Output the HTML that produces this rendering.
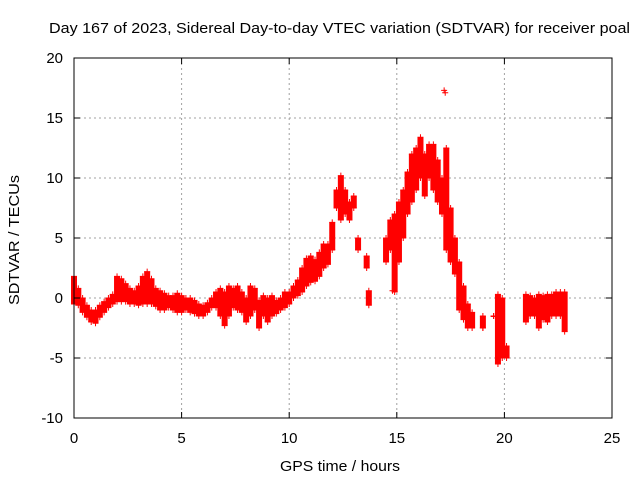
<!DOCTYPE html>
<html><head><meta charset="utf-8"><style>
body{margin:0;background:#fff}
svg{display:block;font-family:"Liberation Sans",sans-serif}
</style></head><body>
<svg id="c" width="640" height="480">
<text x="49" y="33" font-size="15" textLength="581" lengthAdjust="spacingAndGlyphs">Day 167 of 2023, Sidereal Day-to-day VTEC variation (SDTVAR) for receiver poal</text>
<text x="280" y="471" font-size="15" textLength="120" lengthAdjust="spacingAndGlyphs">GPS time / hours</text>
<text transform="translate(19,305) rotate(-90)" font-size="15" textLength="130" lengthAdjust="spacingAndGlyphs">SDTVAR / TECUs</text>
<g id="grid"></g><g id="marks"></g><g id="ticks"></g>
<rect x="74" y="58" width="538" height="360" fill="none" stroke="#000"/>
</svg>
<script>
const xTicks=[0,5,10,15,20,25];
const yTicks=[-10,-5,0,5,10,15,20];
const times=[0,0.2,0.4,0.6,0.8,1.0,1.2,1.4,1.6,1.8,2.0,2.2,2.4,2.6,2.8,3.0,3.2,3.4,3.6,3.8,4.0,4.2,4.4,4.6,4.8,5.0,5.2,5.4,5.6,5.8,6.0,6.2,6.4,6.6,6.8,7.0,7.2,7.4,7.6,7.8,8.0,8.2,8.4,8.6,8.8,9.0,9.2,9.4,9.6,9.8,10.0,10.2,10.4,10.6,10.8,11.0,11.2,11.4,11.6,11.8,12.0,12.2,12.4,12.6,12.8,13.0,13.2,13.6,13.7,14.5,14.7,14.9,15.1,15.3,15.5,15.7,15.9,16.1,16.3,16.5,16.7,16.9,17.1,17.3,17.5,17.7,17.9,18.1,18.3,18.5,19.0,19.5,19.7,19.9,20.1,21.0,21.2,21.4,21.6,21.8,22.0,22.2,22.4,22.6,22.8];
const highs=[1.8,0.8,0,-0.6,-1,-1,-0.6,-0.3,0,0.3,1.8,1.6,1.2,0.8,0.6,1.0,1.8,2.2,1.6,0.8,0.6,0.4,0.2,0.2,0.4,0.2,0,0,-0.2,-0.5,-0.6,-0.4,0,0.5,0.8,0.5,1,0.8,1,0.5,0,1,0.8,-0.2,0.2,0,0.2,-0.2,0,0.5,0.5,1,1.5,2.5,3.3,3.5,3.2,3.8,4.5,4.5,6.3,9,10.2,9,8,8.5,5,3.5,0.6,5,6.5,7,8,9,10.5,12,12.5,13.4,12,12.8,12.8,11.5,10,12.5,7.5,5,3,1,-0.5,-1.2,-1.5,-1.5,0.3,0,-4,0.3,0.2,0,0.3,0.2,0.3,0.3,0.5,0.5,0.5];
const lows=[-0.5,-0.6,-1.2,-1.6,-2,-2.1,-1.6,-1.2,-0.8,-0.5,-0.3,-0.3,-0.3,-0.5,-0.5,-0.6,-0.5,-0.5,-0.5,-0.7,-1,-1,-0.8,-1,-1.2,-1.2,-1,-1.2,-1.3,-1.5,-1.5,-1.2,-0.8,-0.8,-1.5,-2.3,-1.5,-0.8,-1,-1.2,-2,-1.5,-1,-2.5,-1.5,-2,-1.5,-1.3,-1,-0.8,-0.5,0,0.2,0.5,1,1.3,1.4,1.8,2.5,2.8,4,7.5,6.5,7,6.5,7.5,4,2.5,-0.6,3,4,0.5,3,5,7,8,9,10,8.5,10,9,8,7,4,3,2,-1,-1.8,-2.5,-2.5,-2.5,-1.5,-5.5,-5,-5,-2,-1.5,-1.5,-2.5,-1.8,-2,-1.5,-1.5,-1.5,-2.8];
const X=t=>74+t*538/25, Y=v=>298-v*12;
const ns="http://www.w3.org/2000/svg";
const grid=document.getElementById('grid'),marks=document.getElementById('marks'),tk=document.getElementById('ticks');
function mk(tag,at,par){const e=document.createElementNS(ns,tag);for(const k in at)e.setAttribute(k,at[k]);par.appendChild(e);return e;}
xTicks.forEach(t=>{
 if(t>0&&t<25){const g=mk('line',{x1:X(t),x2:X(t),y1:58,y2:418,stroke:'#a0a0a0','stroke-dasharray':'2,3'},grid);
 
 }
 mk('line',{x1:X(t),x2:X(t),y1:418,y2:412,stroke:'#000'},tk);mk('line',{x1:X(t),x2:X(t),y1:58,y2:64,stroke:'#000'},tk);
 const l=mk('text',{x:X(t),y:443,'font-size':15,'text-anchor':'middle'},tk);l.textContent=t;
 
 
});
yTicks.forEach(v=>{
 if(v>-10&&v<20){const g=mk('line',{x1:74,x2:612,y1:Y(v),y2:Y(v),stroke:'#a0a0a0','stroke-dasharray':'2,3'},grid);
 
 }
 mk('line',{x1:74,x2:80,y1:Y(v),y2:Y(v),stroke:'#000'},tk);mk('line',{x1:612,x2:606,y1:Y(v),y2:Y(v),stroke:'#000'},tk);
 const l=mk('text',{x:63,y:Y(v)+5,'font-size':15,'text-anchor':'end'},tk);l.textContent=v;
 
 
});
function plus(x,y){mk('path',{d:`M${x-3},${y}H${x+3}M${x},${y-3}V${y+3}`,stroke:'#f00','stroke-width':1},marks);}
times.forEach((t,i)=>{
 const x=X(t),y1=Y(highs[i]),y2=Y(lows[i]);
 const r=mk('rect',{x:x-3,y:y1,width:6,height:Math.max(1,y2-y1),fill:'#f00'},marks);
 
 
 plus(x,y1);plus(x,y2);
});
const iso=[[17.2,17.3],[17.25,17.1],[14.8,0.6],[20.0,-4.5],[19.0,-2.5]];
iso.forEach(p=>plus(X(p[0]),Y(p[1])));
</script>
</body></html>
